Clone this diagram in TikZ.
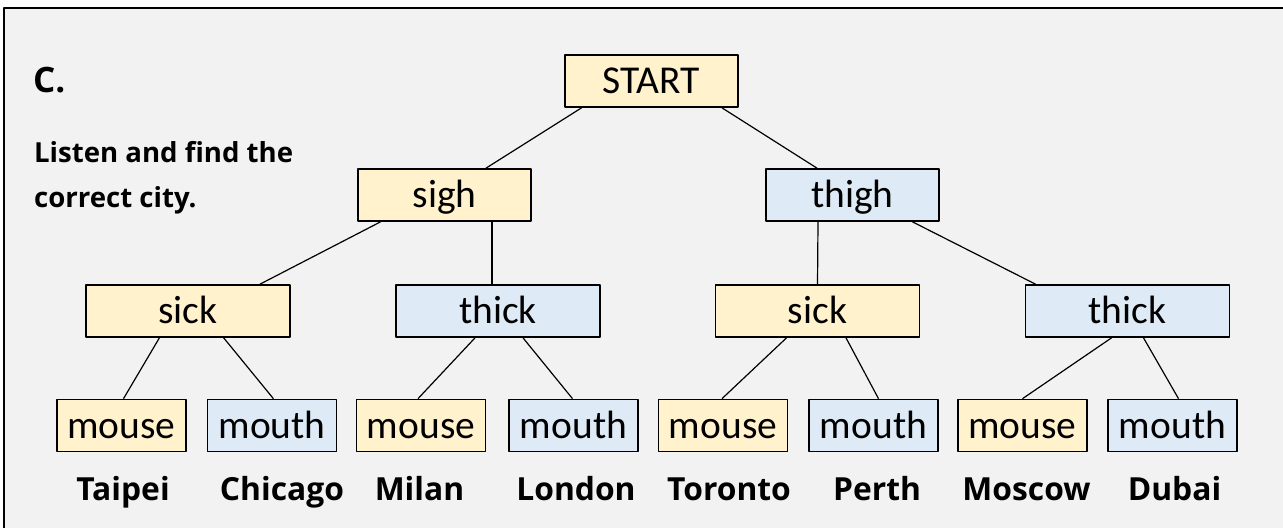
\documentclass[tikz,border=0pt]{standalone}
\usepackage{fontspec}
\setmainfont{Carlito}
\newfontfamily\labelfont{Open Sans}
\definecolor{paleyellow}{HTML}{FFF2CC}
\definecolor{paleblue}{HTML}{DEEBF7}
\definecolor{panelgray}{HTML}{F2F2F2}
\begin{document}
\begin{tikzpicture}[x=0.5pt, y=-0.5pt, line join=round,
		box/.style={draw, line width=0.85pt, minimum height=26pt, inner sep=0pt, text height=12.7pt, text depth=0pt, font=\fontsize{19.75}{22}\selectfont},
		ybox/.style={box, fill=paleyellow},
		bbox/.style={box, fill=paleblue},
		city/.style={font=\labelfont\bfseries\fontsize{15.9}{18}\selectfont},
		task/.style={anchor=base west, font=\labelfont\bfseries\fontsize{13.8}{16}\selectfont},
		link/.style={line width=0.6pt}]
	\useasboundingbox (0,0) rectangle (1283,527);
	% panel
	\draw[fill=panelgray, line width=1.25pt] (4,8) rectangle (1300,540);
	\node[anchor=base west, font=\labelfont\bfseries\fontsize{17.5}{20}\selectfont] (title) at (26,92) {C.};
	\node[task] (task1) at (27,162) {Listen and find the};
	\node[task] (task2) at (27,207) {correct city.};
	% tree
	\node[ybox, minimum width=86.5pt] (start) at (651.5,81) {START};
	\node[ybox, minimum width=86.5pt] (sigh) at (444.5,195) {sigh};
	\node[bbox, minimum width=86.5pt] (thigh) at (852.5,195) {thigh};
	\node[ybox, minimum width=102pt] (sickA) at (188,311) {sick};
	\node[bbox, minimum width=102pt] (thickA) at (498,311) {thick};
	\node[ybox, minimum width=102pt] (sickB) at (817.5,311) {sick};
	\node[bbox, minimum width=102pt] (thickB) at (1127.5,311) {thick};
	\node[ybox, minimum width=64.5pt] (mouseA) at (121.5,425.5) {mouse};
	\node[bbox, minimum width=64.5pt] (mouthA) at (272,425.5) {mouth};
	\node[ybox, minimum width=64.5pt] (mouseB) at (421,425.5) {mouse};
	\node[bbox, minimum width=64.5pt] (mouthB) at (573.5,425.5) {mouth};
	\node[ybox, minimum width=64.5pt] (mouseC) at (723,425.5) {mouse};
	\node[bbox, minimum width=64.5pt] (mouthC) at (873.5,425.5) {mouth};
	\node[ybox, minimum width=64.5pt] (mouseD) at (1022.5,425.5) {mouse};
	\node[bbox, minimum width=64.5pt] (mouthD) at (1172.5,425.5) {mouth};
	\draw[link] ([shift={(-70,0)}]start.south) -- ([shift={(41.5,0)}]sigh.north);
	\draw[link] ([shift={(70.5,0)}]start.south) -- ([shift={(-35.5,0)}]thigh.north);
	\draw[link] ([shift={(-64,0)}]sigh.south) -- ([shift={(72,0)}]sickA.north);
	\draw[link] ([shift={(47.5,0)}]sigh.south) -- ([shift={(-6,0)}]thickA.north);
	\draw[link] ([shift={(-34.5,0)}]thigh.south) -- (sickB.north);
	\draw[link] ([shift={(60,0)}]thigh.south) -- ([shift={(-92,0)}]thickB.north);
	\draw[link] ([shift={(-28.6,0)}]sickA.south) -- ([shift={(2,0)}]mouseA.north);
	\draw[link] ([shift={(35.7,0)}]sickA.south) -- ([shift={(1.4,0)}]mouthA.north);
	\draw[link] ([shift={(-23,0)}]thickA.south) -- ([shift={(-3,0)}]mouseB.north);
	\draw[link] ([shift={(25,0)}]thickA.south) -- ([shift={(-1,0)}]mouthB.north);
	\draw[link] ([shift={(-31,0)}]sickB.south) -- ([shift={(-1,0)}]mouseC.north);
	\draw[link] ([shift={(28.5,0)}]sickB.south) -- ([shift={(5,0)}]mouthC.north);
	\draw[link] ([shift={(-16,0)}]thickB.south) -- (mouseD.north);
	\draw[link] ([shift={(16,0)}]thickB.south) -- ([shift={(6,0)}]mouthD.north);
	% cities
	\foreach \cx/\cname in {123/Taipei, 282/Chicago, 419.5/Milan, 576/London, 729/Toronto, 877/Perth, 1026.5/Moscow, 1174.5/Dubai}
		\node[city, anchor=base] (\cname) at (\cx,500) {\cname};
\end{tikzpicture}
\end{document}
